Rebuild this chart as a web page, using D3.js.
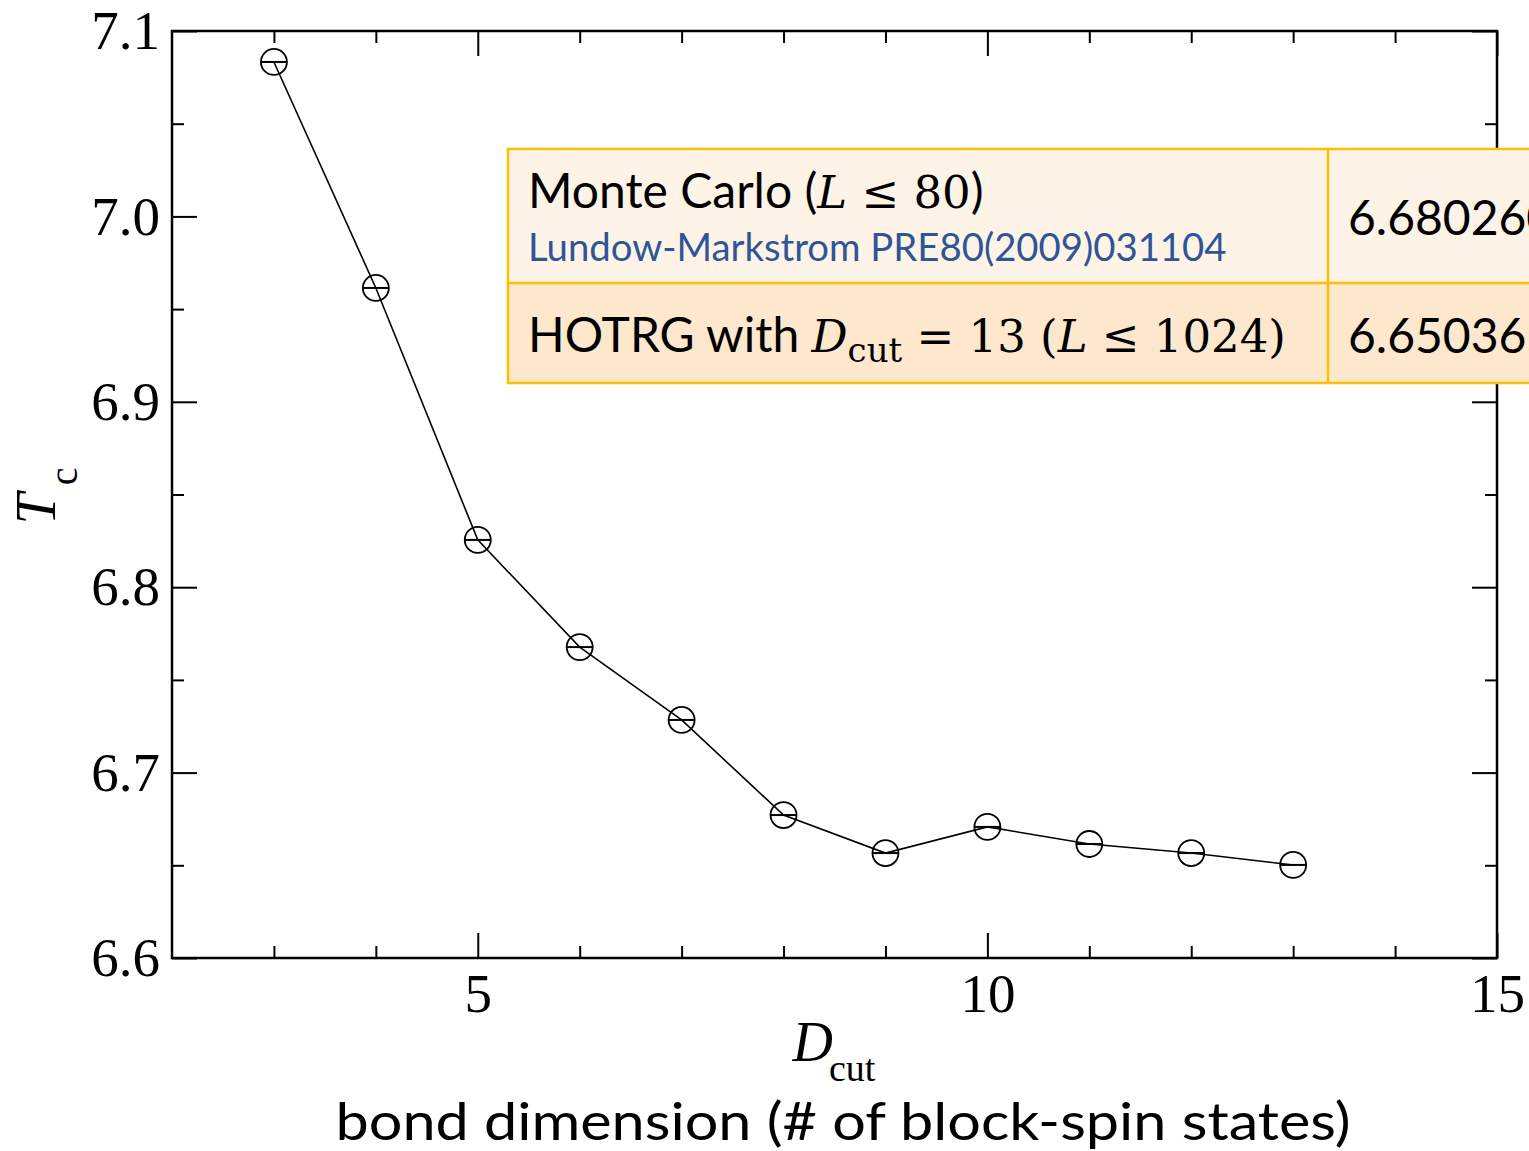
<!DOCTYPE html>
<html>
<head>
<meta charset="utf-8">
<script src="https://cdn.jsdelivr.net/npm/d3@7"></script>
<style>
  body { margin: 0; background: #fff; }
  svg { display: block; }
</style>
</head>
<body>
<svg id="chart" width="1529" height="1151"></svg>
<script>
// data
var dcut = [3, 4, 5, 6, 7, 8, 9, 10, 11, 12, 13];
var tc = [7.0833, 6.9614, 6.8255, 6.7677, 6.7284, 6.6771, 6.6566, 6.6707, 6.6615, 6.6566, 6.6502];

var xMajor = [5, 10, 15];
var xMinor = [3, 4, 6, 7, 8, 9, 11, 12, 13, 14];
var yMajor = [6.6, 6.7, 6.8, 6.9, 7.0, 7.1];
var yMinor = [6.65, 6.75, 6.85, 6.95, 7.05];

var tableRows = [
  { label: "Monte Carlo", L: "80", value: "6.680260", ref: "Lundow-Markstrom PRE80(2009)031104" },
  { label: "HOTRG with", L: "1024", value: "6.650365" }
];

var svg = d3.select("#chart");
var margin = { left: 172, top: 31, right: 1497, bottom: 958 };

var x = d3.scaleLinear().domain([2, 15]).range([margin.left, margin.right]);
var y = d3.scaleLinear().domain([6.6, 7.1]).range([margin.bottom, margin.top]);

var serif = "'Liberation Serif', 'Times New Roman', serif";
var sans = "Lato, 'Open Sans', sans-serif";
var math = "'DejaVu Serif', serif";

// frame
svg.append("rect")
  .attr("x", margin.left).attr("y", margin.top)
  .attr("width", margin.right - margin.left)
  .attr("height", margin.bottom - margin.top)
  .attr("fill", "none").attr("stroke", "#000").attr("stroke-width", 2.5);

function styleAxis(g) {
  g.select(".domain").remove();
  g.selectAll(".tick line").attr("stroke", "#000").attr("stroke-width", 2);
  g.selectAll(".tick text").attr("font-family", serif).attr("font-size", 55).attr("fill", "#000");
}

// bottom
svg.append("g").attr("transform", "translate(0," + margin.bottom + ")")
  .call(d3.axisBottom(x).tickValues(xMajor).tickSize(-25).tickPadding(14).tickFormat(d3.format("d")))
  .call(styleAxis)
  .selectAll(".tick text").attr("dy", "0.72em");
svg.append("g").attr("transform", "translate(0," + margin.bottom + ")")
  .call(d3.axisBottom(x).tickValues(xMinor).tickSize(-12).tickFormat(""))
  .call(styleAxis);
// top
svg.append("g").attr("transform", "translate(0," + margin.top + ")")
  .call(d3.axisTop(x).tickValues(xMajor).tickSize(-25).tickFormat(""))
  .call(styleAxis);
svg.append("g").attr("transform", "translate(0," + margin.top + ")")
  .call(d3.axisTop(x).tickValues(xMinor).tickSize(-12).tickFormat(""))
  .call(styleAxis);
// left
svg.append("g").attr("transform", "translate(" + margin.left + ",0)")
  .call(d3.axisLeft(y).tickValues(yMajor).tickSize(-25).tickPadding(12).tickFormat(d3.format(".1f")))
  .call(styleAxis)
  .selectAll(".tick text").attr("x", -12);
svg.append("g").attr("transform", "translate(" + margin.left + ",0)")
  .call(d3.axisLeft(y).tickValues(yMinor).tickSize(-12).tickFormat(""))
  .call(styleAxis);
// right
svg.append("g").attr("transform", "translate(" + margin.right + ",0)")
  .call(d3.axisRight(y).tickValues(yMajor).tickSize(-25).tickFormat(""))
  .call(styleAxis);
svg.append("g").attr("transform", "translate(" + margin.right + ",0)")
  .call(d3.axisRight(y).tickValues(yMinor).tickSize(-12).tickFormat(""))
  .call(styleAxis);

// line + markers
var pts = dcut.map(function (d, i) { return [d, tc[i]]; });
var line = d3.line().x(function (d) { return x(d[0]); }).y(function (d) { return y(d[1]); });

svg.append("path").datum(pts)
  .attr("d", line).attr("fill", "none").attr("stroke", "#000").attr("stroke-width", 1.6);

var r = 13;
var mk = svg.append("g").selectAll("g").data(pts).enter().append("g");
mk.append("circle")
  .attr("cx", function (d) { return x(d[0]); })
  .attr("cy", function (d) { return y(d[1]); })
  .attr("r", r).attr("fill", "none").attr("stroke", "#000").attr("stroke-width", 1.8);
mk.append("line")
  .attr("x1", function (d) { return x(d[0]) - r; })
  .attr("x2", function (d) { return x(d[0]) + r; })
  .attr("y1", function (d) { return y(d[1]); })
  .attr("y2", function (d) { return y(d[1]); })
  .attr("stroke", "#000").attr("stroke-width", 2);

// y label
var yl = svg.append("text")
  .attr("transform", "translate(55,496) rotate(-90)")
  .attr("font-family", serif).attr("font-size", 56).attr("text-anchor", "middle");
yl.append("tspan").attr("font-style", "italic").text("T");
yl.append("tspan").attr("font-size", 40).attr("dx", 8).attr("dy", 22).text("c");

// x label
var xl = svg.append("text")
  .attr("x", 834).attr("y", 1061)
  .attr("font-family", serif).attr("font-size", 56).attr("text-anchor", "middle");
xl.append("tspan").attr("font-style", "italic").text("D");
xl.append("tspan").attr("font-size", 38).attr("dx", -4).attr("dy", 20).text("cut");

svg.append("text")
  .attr("x", 843).attr("y", 1140)
  .attr("font-family", sans).attr("font-size", 52).attr("text-anchor", "middle")
  .attr("textLength", 1015).attr("lengthAdjust", "spacingAndGlyphs")
  .text("bond dimension (# of block-spin states)");

// table overlay
var tb = svg.append("g");
var rowY = [149, 283, 383];
var colX = [508, 1328, 1540];
var rowFill = ["#fef3e7", "#fde7cd"];
tableRows.forEach(function (row, i) {
  tb.append("rect")
    .attr("x", colX[0]).attr("y", rowY[i])
    .attr("width", colX[2] - colX[0]).attr("height", rowY[i + 1] - rowY[i])
    .attr("fill", rowFill[i]);
});
tb.append("rect")
  .attr("x", colX[0]).attr("y", rowY[0])
  .attr("width", colX[2] - colX[0]).attr("height", rowY[2] - rowY[0])
  .attr("fill", "none").attr("stroke", "#ffc000").attr("stroke-width", 2.5);
tb.append("line").attr("x1", colX[0]).attr("x2", colX[2]).attr("y1", rowY[1]).attr("y2", rowY[1])
  .attr("stroke", "#ffc000").attr("stroke-width", 2.5);
tb.append("line").attr("x1", colX[1]).attr("x2", colX[1]).attr("y1", rowY[0]).attr("y2", rowY[2])
  .attr("stroke", "#ffc000").attr("stroke-width", 2.5);

var t1 = tb.append("text").attr("x", 528).attr("y", 208).attr("font-family", sans).attr("font-size", 48).attr("fill", "#000");
t1.append("tspan").text(tableRows[0].label + " (");
t1.append("tspan").attr("font-family", math).attr("font-style", "italic").attr("font-size", 45).text("L");
t1.append("tspan").attr("font-family", math).attr("font-size", 45).text(" \u2264 " + tableRows[0].L);
t1.append("tspan").text(")");

tb.append("text").attr("x", 528).attr("y", 261).attr("font-family", sans).attr("font-size", 38.3)
  .attr("fill", "#2f5597").text(tableRows[0].ref);

var t2 = tb.append("text").attr("x", 528).attr("y", 352).attr("font-family", sans).attr("font-size", 48).attr("fill", "#000");
t2.append("tspan").text(tableRows[1].label + " ");
t2.append("tspan").attr("font-family", math).attr("font-style", "italic").attr("font-size", 45).text("D");
t2.append("tspan").attr("font-family", math).attr("font-size", 34).attr("dy", 10).text("cut");
t2.append("tspan").attr("font-family", math).attr("font-size", 45).attr("dy", -10).text(" = 13 (");
t2.append("tspan").attr("font-family", math).attr("font-style", "italic").attr("font-size", 45).text("L");
t2.append("tspan").attr("font-family", math).attr("font-size", 45).text(" \u2264 " + tableRows[1].L + ")");

tb.append("text").attr("x", 1348).attr("y", 235).attr("font-family", sans).attr("font-size", 48).text(tableRows[0].value);
tb.append("text").attr("x", 1348).attr("y", 353).attr("font-family", sans).attr("font-size", 48).text(tableRows[1].value);
</script>
</body>
</html>
